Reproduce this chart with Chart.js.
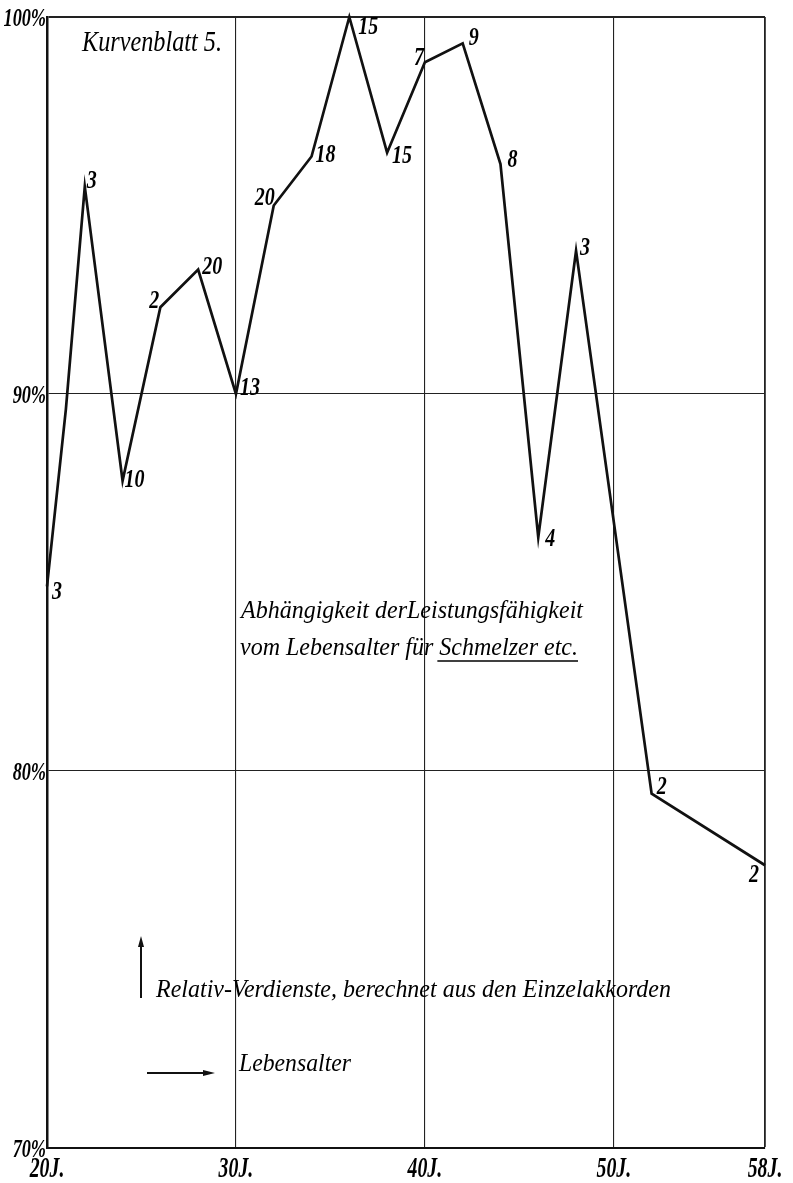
<!DOCTYPE html>
<html><head><meta charset="utf-8">
<script src="https://cdn.jsdelivr.net/npm/chart.js@4/dist/chart.umd.min.js"></script>
<style>html,body{margin:0;padding:0;background:#fff}#wrap{width:793px;height:1183px;position:relative}canvas{display:block}</style>
</head><body><div id="wrap"><canvas id="c" width="793" height="1183"></canvas></div>
<script>
// ---- data ----
const ages = [20, 21, 22, 24, 26, 28, 30, 32, 34, 36, 38, 40, 42, 44, 46, 48, 52, 58];
const earnings = [84.9, 89.6, 95.5, 87.7, 92.3, 93.3, 90.0, 95.0, 96.3, 100.0, 96.4, 98.8, 99.3, 96.1, 86.2, 93.8, 79.4, 77.5];
const workers = [3, null, 3, 10, 2, 20, 13, 20, 18, 15, 15, 7, 9, 8, 4, 3, 2, 2];
const xTickValues = [20, 30, 40, 50, 58];
const yTickValues = [70, 80, 90, 100];
const xTickSuffix = 'J.';
const yTickSuffix = '%';
const titleText = 'Kurvenblatt 5.';
const noteLine1 = 'Abhängigkeit derLeistungsfähigkeit';
const noteLine2a = 'vom Lebensalter für ';
const noteLine2b = 'Schmelzer etc.';
const legendUp = 'Relativ-Verdienste, berechnet aus den Einzelakkorden';
const legendRight = 'Lebensalter';

// ---- drawing helpers ----
const SERIF = '"Liberation Serif", "DejaVu Serif", serif';
function drawText(ctx, text, x, y, font, sx, align) {
  ctx.save();
  ctx.font = font;
  ctx.textBaseline = 'alphabetic';
  ctx.textAlign = 'left';
  const w = ctx.measureText(text).width * sx;
  let left = x;
  if (align === 'right') left = x - w;
  else if (align === 'center') left = x - w / 2;
  ctx.translate(left, y);
  ctx.scale(sx, 1);
  ctx.fillStyle = '#000';
  ctx.fillText(text, 0, 0);
  ctx.restore();
  return w;
}
function fitScale(ctx, text, font, width) {
  ctx.save(); ctx.font = font; const w = ctx.measureText(text).width; ctx.restore();
  return width / w;
}

// label placement relative to each point: [dx, dy, align]
const labelPlace = [
  [5, 13, 'left'], null, [2, 1, 'left'], [2, 6, 'left'], [-1, 1, 'right'], [4, 4, 'left'],
  [4, 1, 'left'], [1, -1, 'right'], [4, 6, 'left'], [9, 17, 'left'], [5, 10, 'left'],
  [-1, 3, 'right'], [6, 2, 'left'], [7, 3, 'left'], [7, 9, 'left'], [4, 4, 'left'],
  [5, 0, 'left'], [-6, 17, 'right']
];

const pointLabels = {
  id: 'pointLabels',
  afterDatasetsDraw(chart) {
    const ctx = chart.ctx;
    const meta = chart.getDatasetMeta(0);
    meta.data.forEach((pt, i) => {
      if (workers[i] == null || !labelPlace[i]) return;
      const [dx, dy, al] = labelPlace[i];
      drawText(ctx, String(workers[i]), pt.x + dx, pt.y + dy, 'bold italic 25px ' + SERIF, 0.8, al);
    });
  }
};

const tickLabels = {
  id: 'tickLabels',
  afterDraw(chart) {
    const ctx = chart.ctx;
    const xs = chart.scales.x, ys = chart.scales.y;
    ys.ticks.forEach(t => {
      const y = ys.getPixelForValue(t.value);
      drawText(ctx, t.value + yTickSuffix, xs.left - 1, y + 9, 'bold italic 26px ' + SERIF, 0.7, 'right');
    });
    xs.ticks.forEach(t => {
      const x = xs.getPixelForValue(t.value);
      drawText(ctx, t.value + xTickSuffix, x, ys.bottom + 29, 'bold italic 30px ' + SERIF, 0.66, 'center');
    });
  }
};

const annotations = {
  id: 'annotations',
  afterDraw(chart) {
    const ctx = chart.ctx;
    // title
    let f = 'italic 30px ' + SERIF;
    drawText(ctx, titleText, 82, 51, f, fitScale(ctx, titleText, f, 140), 'left');
    // note
    f = 'italic 25px ' + SERIF;
    drawText(ctx, noteLine1, 241, 618, f, fitScale(ctx, noteLine1, f, 342), 'left');
    const full2 = noteLine2a + noteLine2b;
    const s2 = fitScale(ctx, full2, f, 338);
    const wa = drawText(ctx, noteLine2a, 240, 655, f, s2, 'left');
    const wb = drawText(ctx, noteLine2b, 240 + wa, 655, f, s2, 'left');
    ctx.save();
    ctx.strokeStyle = '#000'; ctx.lineWidth = 1.6;
    ctx.beginPath(); ctx.moveTo(240 + wa - 2, 661); ctx.lineTo(240 + wa + wb, 661); ctx.stroke();
    ctx.restore();
    // legend
    f = 'italic 26px ' + SERIF;
    drawText(ctx, legendUp, 156, 997, f, fitScale(ctx, legendUp, f, 515), 'left');
    drawText(ctx, legendRight, 239, 1071, f, fitScale(ctx, legendRight, f, 112), 'left');
    ctx.save();
    ctx.strokeStyle = '#111'; ctx.fillStyle = '#111'; ctx.lineWidth = 2;
    ctx.beginPath(); ctx.moveTo(141, 998); ctx.lineTo(141, 944); ctx.stroke();
    ctx.beginPath(); ctx.moveTo(141, 936); ctx.lineTo(138, 947); ctx.lineTo(144, 947); ctx.closePath(); ctx.fill();
    ctx.beginPath(); ctx.moveTo(147, 1073); ctx.lineTo(206, 1073); ctx.stroke();
    ctx.beginPath(); ctx.moveTo(215, 1073); ctx.lineTo(203, 1070); ctx.lineTo(203, 1076); ctx.closePath(); ctx.fill();
    ctx.restore();
  }
};

new Chart(document.getElementById('c'), {
  type: 'line',
  data: {
    datasets: [{
      data: ages.map((a, i) => ({ x: a, y: earnings[i] })),
      borderColor: '#111',
      borderWidth: 2.7,
      pointRadius: 0,
      tension: 0,
      fill: false,
      clip: false
    }]
  },
  options: {
    responsive: false,
    animation: false,
    devicePixelRatio: 1,
    layout: { padding: { left: 47, top: 17, right: 28, bottom: 35 } },
    plugins: { legend: { display: false }, tooltip: { enabled: false } },
    scales: {
      x: {
        type: 'linear', min: 20, max: 58,
        afterBuildTicks: axis => { axis.ticks = xTickValues.map(v => ({ value: v })); },
        ticks: { display: false },
        grid: {
          drawTicks: false, color: '#222',
          lineWidth: c => (c.tick && (c.tick.value === 58)) ? 1.8 : 1.1
        },
        border: { display: true, color: '#111', width: 2 }
      },
      y: {
        type: 'linear', min: 70, max: 100,
        afterBuildTicks: axis => { axis.ticks = yTickValues.map(v => ({ value: v })); },
        ticks: { display: false },
        grid: {
          drawTicks: false, color: '#222',
          lineWidth: c => (c.tick && (c.tick.value === 100)) ? 2 : 1.1
        },
        border: { display: true, color: '#111', width: 2.5 }
      }
    }
  },
  plugins: [pointLabels, tickLabels, annotations]
});
</script>
</body></html>
